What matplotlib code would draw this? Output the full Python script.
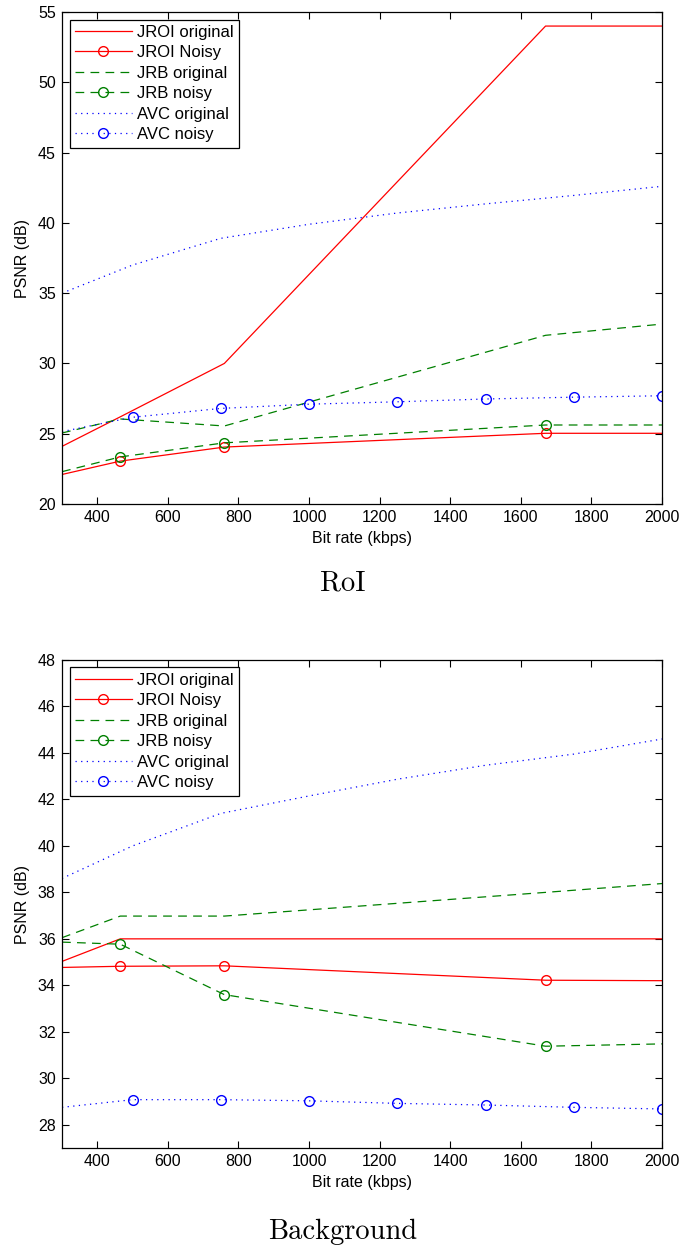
import matplotlib
matplotlib.use("Agg")
from matplotlib import pyplot as plt

plt.rcParams['font.family'] = ['Liberation Sans', 'DejaVu Sans']
plt.rcParams['font.size'] = 11.5

# RoI plot data
roi_x_orig = [300, 465, 760, 1670, 2000]
roi_jroi_orig = [24.1, 26.2, 30.0, 54.0, 54.0]
roi_jroi_noisy = [22.1, 23.05, 24.05, 25.03, 25.03]
roi_jrb_orig = [25.05, 26.05, 25.55, 32.0, 32.8]
roi_jrb_noisy = [22.3, 23.35, 24.35, 25.62, 25.62]
avc_x = [300, 500, 750, 1000, 1250, 1500, 1750, 2000]
roi_avc_orig = [35.0, 37.0, 38.9, 39.9, 40.7, 41.35, 41.95, 42.6]
roi_avc_noisy = [25.15, 26.17, 26.8, 27.1, 27.27, 27.47, 27.6, 27.7]

# Background plot data
bg_jroi_orig = [35.03, 36.0, 36.0, 36.0, 36.0]
bg_jroi_noisy = [34.77, 34.82, 34.84, 34.22, 34.2]
bg_jrb_orig = [36.05, 36.98, 36.98, 38.0, 38.38]
bg_jrb_noisy = [35.86, 35.77, 33.6, 31.38, 31.48]
bg_avc_orig = [38.6, 40.0, 41.4, 42.15, 42.87, 43.47, 43.95, 44.6]
bg_avc_noisy = [28.75, 29.08, 29.08, 29.03, 28.92, 28.85, 28.75, 28.68]

green = (0, 0.5, 0)
dash = (0, (7, 5))
dot = (0, (1, 3.5))


def draw(ax, data, ylim, yticks):
    jo, jn, ro, rn, ao, an = data
    ax.plot(roi_x_orig, jo, color='r', lw=0.9, label='JROI original')
    ax.plot(roi_x_orig, jn, color='r', lw=0.9, marker='o', mfc='none',
            ms=7, markevery=[1, 2, 3], label='JROI Noisy')
    ax.plot(roi_x_orig, ro, color=green, lw=0.9, ls=dash, label='JRB original')
    ax.plot(roi_x_orig, rn, color=green, lw=0.9, ls=dash, marker='o',
            mfc='none', ms=7, markevery=[1, 2, 3], label='JRB noisy')
    ax.plot(avc_x, ao, color='b', lw=0.9, ls=dot, label='AVC original')
    ax.plot(avc_x, an, color='b', lw=0.9, ls=dot, marker='o', mfc='none',
            ms=7, markevery=list(range(1, 8)), label='AVC noisy')
    ax.set_xlim(300, 2000)
    ax.set_ylim(*ylim)
    ax.set_xticks(range(400, 2001, 200))
    ax.set_yticks(yticks)
    ax.tick_params(direction='in', top=True, right=True, length=5, width=0.8,
                   pad=4.5)
    ax.set_xlabel('Bit rate (kbps)', labelpad=4)
    ax.set_ylabel('PSNR (dB)', labelpad=5.5)
    for s in ax.spines.values():
        s.set_linewidth(0.9)
    leg = ax.legend(loc='upper left', fancybox=False, edgecolor='black',
                    framealpha=1, handlelength=3.4, borderaxespad=0.45,
                    labelspacing=0.33, borderpad=0.32, handletextpad=0.35,
                    fontsize=12)
    leg.get_frame().set_linewidth(0.9)


fig = plt.figure(figsize=(6.83, 12.5), dpi=100)
ax1 = fig.add_axes([0.0908, 0.5968, 0.8785, 0.3936])
ax2 = fig.add_axes([0.0908, 0.0816, 0.8785, 0.3904])

draw(ax1, [roi_jroi_orig, roi_jroi_noisy, roi_jrb_orig, roi_jrb_noisy,
           roi_avc_orig, roi_avc_noisy], (20, 55), range(20, 56, 5))
draw(ax2, [bg_jroi_orig, bg_jroi_noisy, bg_jrb_orig, bg_jrb_noisy,
           bg_avc_orig, bg_avc_noisy], (27, 48), range(28, 49, 2))

fig.text(0.502, 1 - 583 / 1250, 'RoI', ha='center', va='center',
         fontsize=20.5, family='cmr10')
fig.text(0.502, 1 - 1232 / 1250, 'Background', ha='center', va='center',
         fontsize=20.5, family='cmr10')

fig.savefig('out.png', dpi=100)
